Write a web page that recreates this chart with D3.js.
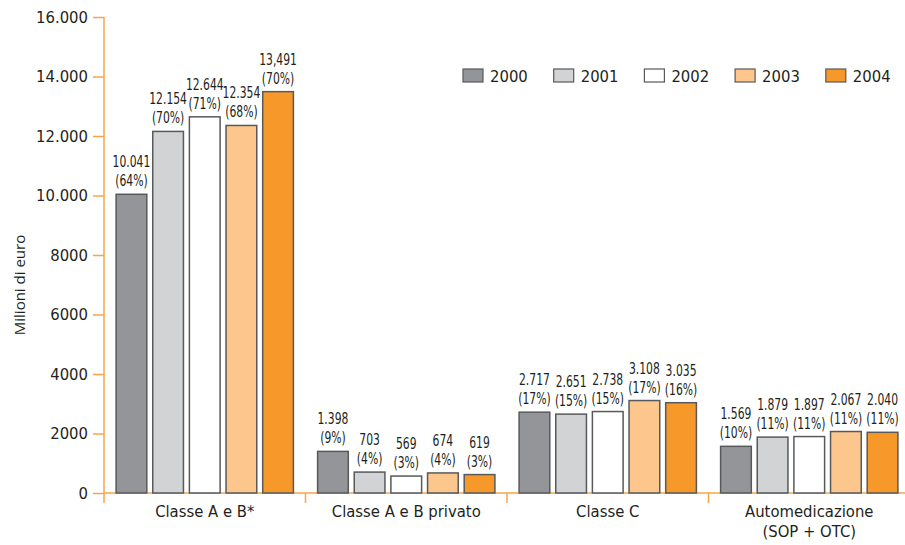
<!DOCTYPE html>
<html>
<head>
<meta charset="utf-8">
<script src="https://cdn.jsdelivr.net/npm/d3@7"></script>
<style>
  body { margin: 0; background: #fff; }
  text { font-family: "DejaVu Sans Condensed", "Liberation Sans", sans-serif; fill: #231f20; }
</style>
</head>
<body>
<svg id="chart" width="905" height="545"></svg>
<script>
// Spesa farmaceutica per classe, milioni di euro
const categories = ["Classe A e B*", "Classe A e B privato", "Classe C", "Automedicazione\n(SOP + OTC)"];
const years = ["2000", "2001", "2002", "2003", "2004"];
const values2000 = [10041, 1398, 2717, 1569];
const values2001 = [12154, 703, 2651, 1879];
const values2002 = [12644, 569, 2738, 1897];
const values2003 = [12354, 674, 3108, 2067];
const values2004 = [13491, 619, 3035, 2040];
const valueLabels2000 = ["10.041", "1.398", "2.717", "1.569"];
const valueLabels2001 = ["12.154", "703", "2.651", "1.879"];
const valueLabels2002 = ["12.644", "569", "2.738", "1.897"];
const valueLabels2003 = ["12.354", "674", "3.108", "2.067"];
const valueLabels2004 = ["13,491", "619", "3.035", "2.040"];
const shares2000 = ["64%", "9%", "17%", "10%"];
const shares2001 = ["70%", "4%", "15%", "11%"];
const shares2002 = ["71%", "3%", "15%", "11%"];
const shares2003 = ["68%", "4%", "17%", "11%"];
const shares2004 = ["70%", "3%", "16%", "11%"];
const yTicks = [0, 2000, 4000, 6000, 8000, 10000, 12000, 14000, 16000];
const yTickLabels = ["0", "2000", "4000", "6000", "8000", "10.000", "12.000", "14.000", "16.000"];
const colors = ["#939598", "#d1d3d4", "#ffffff", "#fdc68d", "#f7992a"];

const series = [
  { year: years[0], values: values2000, labels: valueLabels2000, shares: shares2000 },
  { year: years[1], values: values2001, labels: valueLabels2001, shares: shares2001 },
  { year: years[2], values: values2002, labels: valueLabels2002, shares: shares2002 },
  { year: years[3], values: values2003, labels: valueLabels2003, shares: shares2003 },
  { year: years[4], values: values2004, labels: valueLabels2004, shares: shares2004 }
];

const svg = d3.select("#chart");
const axisColor = "#f7a447";
const plotLeft = 104, plotRight = 910, plotTop = 17, plotBottom = 493;

const x0 = d3.scaleBand().domain(d3.range(categories.length)).range([plotLeft, plotRight]);
const x1 = d3.scaleBand().domain(years).range([0, x0.bandwidth()]).paddingInner(6 / 37).paddingOuter(0.33);
const y = d3.scaleLinear().domain([0, 16000]).range([plotBottom, plotTop]);

// y axis
const yAxis = svg.append("g").attr("transform", `translate(${plotLeft},0)`)
  .call(d3.axisLeft(y).tickValues(yTicks).tickSize(11).tickPadding(5)
    .tickFormat((d, i) => yTickLabels[i]));
yAxis.select(".domain").remove();
yAxis.selectAll(".tick line").attr("stroke", axisColor).attr("stroke-width", 1.5);
yAxis.selectAll(".tick text").style("font-size", "16.5px").attr("fill", "#231f20")
  .style("font-family", '"DejaVu Sans Condensed", sans-serif');
svg.append("line").attr("x1", plotLeft).attr("x2", plotLeft).attr("y1", plotTop).attr("y2", plotBottom + 10)
  .attr("stroke", axisColor).attr("stroke-width", 1.5);

// x axis baseline and group separators
svg.append("line").attr("x1", plotLeft).attr("x2", 905).attr("y1", plotBottom).attr("y2", plotBottom)
  .attr("stroke", axisColor).attr("stroke-width", 1.5);
svg.selectAll(".sep").data(d3.range(1, categories.length + 1)).join("line")
  .attr("x1", d => x0(d) ?? plotRight).attr("x2", d => x0(d) ?? plotRight)
  .attr("y1", plotBottom).attr("y2", plotBottom + 10)
  .attr("stroke", axisColor).attr("stroke-width", 1.5);

// category labels
const catG = svg.selectAll(".cat").data(categories).join("text")
  .attr("text-anchor", "middle")
  .attr("x", (d, i) => x0(i) + x0.bandwidth() / 2)
  .attr("y", 517)
  .style("font-size", "16.5px");
catG.each(function (d) {
  const parts = d.split("\n");
  const t = d3.select(this);
  parts.forEach((p, k) => t.append("tspan").attr("x", t.attr("x")).attr("dy", k === 0 ? 0 : 20).text(p));
});

// y title
svg.append("text").attr("transform", "translate(25,285) rotate(-90)")
  .attr("text-anchor", "middle")
  .style("font-family", '"Open Sans", "Noto Sans", sans-serif')
  .style("font-size", "15px").text("Milioni di euro");

// bars
const groups = svg.selectAll(".grp").data(series).join("g");
groups.selectAll("rect").data((s, si) => s.values.map((v, ci) => ({ v, ci, si, s }))).join("rect")
  .attr("x", d => x0(d.ci) + x1(d.s.year))
  .attr("width", x1.bandwidth())
  .attr("y", d => y(d.v))
  .attr("height", d => plotBottom - y(d.v))
  .attr("fill", d => colors[d.si])
  .attr("stroke", "#58595b").attr("stroke-width", 1.5);

// value labels: amount and share, in narrow type above each bar
groups.selectAll("g.val").data((s, si) => s.values.map((v, ci) => ({ v, ci, si, s }))).join("g")
  .attr("class", "val")
  .attr("transform", d => `translate(${x0(d.ci) + x1(d.s.year) + x1.bandwidth() / 2},${y(d.v)}) scale(0.8,1)`)
  .each(function (d) {
    const t = d3.select(this).append("text")
      .attr("text-anchor", "middle")
      .style("font-size", "15px");
    t.append("tspan").attr("x", 0).attr("y", -27).text(d.s.labels[d.ci]);
    t.append("tspan").attr("x", 0).attr("y", -8).text("(" + d.s.shares[d.ci] + ")");
  });

// legend
const legend = svg.selectAll(".leg").data(series).join("g")
  .attr("transform", (d, i) => `translate(${463 + i * 90.7},69)`);
legend.append("rect").attr("width", 20).attr("height", 13)
  .attr("fill", (d, i) => colors[i]).attr("stroke", "#58595b").attr("stroke-width", 1.2);
legend.append("text").attr("x", 27).attr("y", 12.5).style("font-size", "16.5px").text(d => d.year);
</script>
</body>
</html>
